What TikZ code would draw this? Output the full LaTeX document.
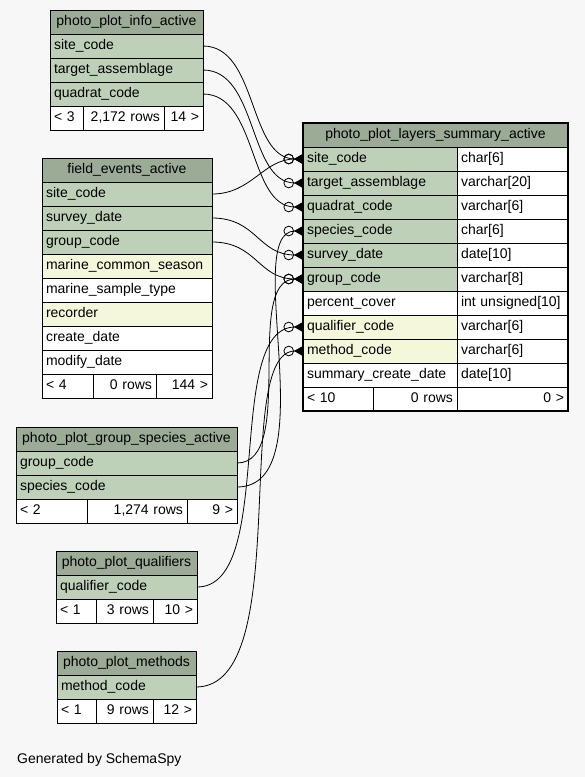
\documentclass[tikz,border=0pt]{standalone}
\usepackage{fontspec}
\setmainfont{Liberation Sans}
\usetikzlibrary{arrows.meta,fit,positioning}

\definecolor{headgreen}{HTML}{9BAB96}
\definecolor{keygreen}{HTML}{BED1B8}
\definecolor{idxyellow}{HTML}{F4F7DA}
\definecolor{pagegray}{HTML}{F7F7F7}

\begin{document}
\begin{tikzpicture}[
      x=1pt, y=-1pt,
      cell/.style       = {draw=black, line width=0.8pt, inner xsep=4pt, inner ysep=0pt, outer sep=0pt,
                           minimum height=24pt, text height=10pt, text depth=3pt,
                           font=\fontsize{14}{17}\selectfont},
      tablehead/.style  = {cell, fill=headgreen, minimum width=#1},
      keyfield/.style   = {cell, fill=keygreen, text width=#1, align=left},
      idxfield/.style   = {cell, fill=idxyellow, text width=#1, align=left},
      field/.style      = {cell, fill=white, text width=#1, align=left},
      count/.style      = {cell, fill=white, text width=#1, align=right},
      relation/.style   = {draw, line width=0.8pt,
                           -{Circle[open,length=10.5pt,width=10.5pt] Triangle[reversed,length=9pt,width=10pt]}}
    ]
    \path [use as bounding box, fill=pagegray] (0,0) rectangle (585,777);

    % photo_plot_info_active
    \node (info)       [tablehead=153] at (126.5,22)                      {photo\_plot\_info\_active};
    \node (infosite)   [keyfield=145, below=0pt of info]                 {site\_code};
    \node (infotarget) [keyfield=145, below=0pt of infosite]             {target\_assemblage};
    \node (infoquad)   [keyfield=145, below=0pt of infotarget]           {quadrat\_code};
    \node (infofootl)  [field=25, below right=0pt and 0pt of infoquad.south west] {< 3};
    \node (infofootc)  [count=73, right=0pt of infofootl]                {2,172 rows};
    \node (infofootr)  [count=31, right=0pt of infofootc]                {14 >};

    % field_events_active
    \node (events)         [tablehead=170] at (127,170)                  {field\_events\_active};
    \node (eventssite)     [keyfield=162, below=0pt of events]           {site\_code};
    \node (eventssurvey)   [keyfield=162, below=0pt of eventssite]       {survey\_date};
    \node (eventsgroup)    [keyfield=162, below=0pt of eventssurvey]     {group\_code};
    \node (eventsseason)   [idxfield=162, below=0pt of eventsgroup]      {marine\_common\_season};
    \node (eventssample)   [field=162, below=0pt of eventsseason]        {marine\_sample\_type};
    \node (eventsrecorder) [idxfield=162, below=0pt of eventssample]     {recorder};
    \node (eventscreate)   [field=162, below=0pt of eventsrecorder]      {create\_date};
    \node (eventsmodify)   [field=162, below=0pt of eventscreate]        {modify\_date};
    \node (eventsfootl)    [field=43, below right=0pt and 0pt of eventsmodify.south west] {< 4};
    \node (eventsfootc)    [count=55, right=0pt of eventsfootl]          {0 rows};
    \node (eventsfootr)    [count=48, right=0pt of eventsfootc]          {144 >};

    % photo_plot_layers_summary_active
    \node (summary)          [tablehead=265] at (435.5,135)              {photo\_plot\_layers\_summary\_active};
    \node (summsite)         [keyfield=146, below right=0pt and 0pt of summary.south west] {site\_code};
    \node (summsitetype)     [field=103, right=0pt of summsite]          {char[6]};
    \node (summtarget)       [keyfield=146, below=0pt of summsite]       {target\_assemblage};
    \node (summtargettype)   [field=103, right=0pt of summtarget]        {varchar[20]};
    \node (summquad)         [keyfield=146, below=0pt of summtarget]     {quadrat\_code};
    \node (summquadtype)     [field=103, right=0pt of summquad]          {varchar[6]};
    \node (summspecies)      [keyfield=146, below=0pt of summquad]       {species\_code};
    \node (summspeciestype)  [field=103, right=0pt of summspecies]       {char[6]};
    \node (summsurvey)       [keyfield=146, below=0pt of summspecies]    {survey\_date};
    \node (summsurveytype)   [field=103, right=0pt of summsurvey]        {date[10]};
    \node (summgroup)        [keyfield=146, below=0pt of summsurvey]     {group\_code};
    \node (summgrouptype)    [field=103, right=0pt of summgroup]         {varchar[8]};
    \node (summcover)        [field=146, below=0pt of summgroup]         {percent\_cover};
    \node (summcovertype)    [field=103, right=0pt of summcover]         {int unsigned[10]};
    \node (summqualifier)    [idxfield=146, below=0pt of summcover]      {qualifier\_code};
    \node (summqualifiertype)[field=103, right=0pt of summqualifier]     {varchar[6]};
    \node (summmethod)       [idxfield=146, below=0pt of summqualifier]  {method\_code};
    \node (summmethodtype)   [field=103, right=0pt of summmethod]        {varchar[6]};
    \node (summcreate)       [field=146, below=0pt of summmethod]        {summary\_create\_date};
    \node (summcreatetype)   [field=103, right=0pt of summcreate]        {date[10]};
    \node (summfootl)        [field=62, below right=0pt and 0pt of summcreate.south west] {< 10};
    \node (summfootc)        [count=76, right=0pt of summfootl]          {0 rows};
    \node (summfootr)        [count=103, right=0pt of summfootc]         {0 >};
    \node (summframe)        [draw, line width=2.6pt, inner sep=0pt, fit=(summary) (summfootr)] {};

    % photo_plot_group_species_active
    \node (groupsp)        [tablehead=221] at (126.5,439)                {photo\_plot\_group\_species\_active};
    \node (groupspgroup)   [keyfield=213, below=0pt of groupsp]          {group\_code};
    \node (groupspspecies) [keyfield=213, below=0pt of groupspgroup]     {species\_code};
    \node (groupspfootl)   [field=63, below right=0pt and 0pt of groupspspecies.south west] {< 2};
    \node (groupspfootc)   [count=92, right=0pt of groupspfootl]         {1,274 rows};
    \node (groupspfootr)   [count=42, right=0pt of groupspfootc]         {9 >};

    % photo_plot_qualifiers
    \node (qualifiers)     [tablehead=141] at (126.5,563)                {photo\_plot\_qualifiers};
    \node (qualifierscode) [keyfield=133, below=0pt of qualifiers]       {qualifier\_code};
    \node (qualifiersfootl)[field=32, below right=0pt and 0pt of qualifierscode.south west] {< 1};
    \node (qualifiersfootc)[count=49, right=0pt of qualifiersfootl]      {3 rows};
    \node (qualifiersfootr)[count=36, right=0pt of qualifiersfootc]      {10 >};

    % photo_plot_methods
    \node (methods)        [tablehead=139] at (126.5,663)                {photo\_plot\_methods};
    \node (methodscode)    [keyfield=131, below=0pt of methods]          {method\_code};
    \node (methodsfootl)   [field=31, below right=0pt and 0pt of methodscode.south west] {< 1};
    \node (methodsfootc)   [count=49, right=0pt of methodsfootl]         {9 rows};
    \node (methodsfootr)   [count=35, right=0pt of methodsfootc]         {12 >};

    \node (credit) [anchor=base west, inner sep=0pt, font=\fontsize{14}{17}\selectfont] at (17,763) {Generated by SchemaSpy};

    \draw [relation] (infosite.east)       .. controls +(55,0) and +(-55,0) .. (summsite.west);
    \draw [relation] (infotarget.east)     .. controls +(55,0) and +(-55,0) .. (summtarget.west);
    \draw [relation] (infoquad.east)       .. controls +(55,0) and +(-55,0) .. (summquad.west);
    \draw [relation] (eventssite.east)     .. controls +(40,0) and +(-40,0) .. (summsite.west);
    \draw [relation] (eventssurvey.east)   .. controls +(45,0) and +(-45,0) .. (summsurvey.west);
    \draw [relation] (eventsgroup.east)    .. controls +(45,0) and +(-45,0) .. (summgroup.west);
    \draw [relation] (groupspgroup.east)   .. controls +(60,0) and +(-60,0) .. (summgroup.west);
    \draw [relation] (groupspspecies.east) .. controls +(90,0) and +(-63,0) .. (summspecies.west);
    \draw [relation] (qualifierscode.east) .. controls +(80,0) and +(-80,0) .. (summqualifier.west);
    \draw [relation] (methodscode.east)    .. controls +(100,0) and +(-73,0) .. (summmethod.west);

  \end{tikzpicture}
\end{document}
